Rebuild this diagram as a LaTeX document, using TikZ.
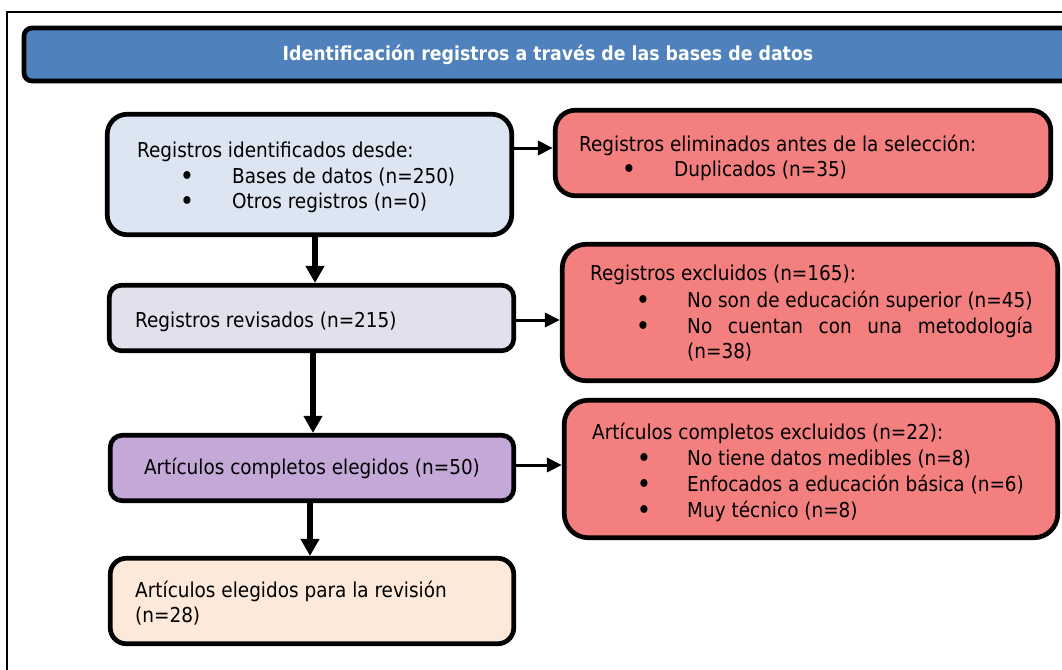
\documentclass[tikz,border=0pt]{standalone}
\usepackage{fontspec}
\setmainfont{DejaVu Sans Condensed}
\usetikzlibrary{arrows.meta}
\definecolor{titleblue}{HTML}{4F81BD}
\definecolor{boxblue}{HTML}{DCE6F2}
\definecolor{boxlilac}{HTML}{E4DFEC}
\definecolor{boxpurple}{HTML}{C4A9D8}
\definecolor{boxpeach}{HTML}{FDE9D9}
\definecolor{boxred}{HTML}{F47F7F}
\newcommand\bodyfont{\fontsize{20.5}{25.5}\selectfont}
\newcommand\bulfont{\fontsize{27}{27}\selectfont}
\newcommand\headfont{\fontsize{19.3}{22}\selectfont\bfseries}
\begin{document}
\begin{tikzpicture}[x=1pt,y=-1pt,
  box/.style={draw=black, line width=4.7pt, rounded corners=#1, inner sep=0pt},
  txt/.style={inner sep=0pt, anchor=base west, font=\bodyfont},
  bul/.style={inner sep=0pt, anchor=base, font=\bulfont, yshift=-2.3pt},
  varrow/.style={line width=6.5pt, -{Triangle[length=17pt,width=18pt]}},
  harrow/.style={line width=3pt, -{Triangle[length=15pt,width=14pt]}}]
\useasboundingbox (0,0) rectangle (1062,669);
\clip (0,0) rectangle (1062,669);
\fill[white] (0,0) rectangle (1062,669);
\draw[line width=1.5pt] (7,12) rectangle (1100,700);
% title
\node[box=8, fill=titleblue, minimum width=1048pt, minimum height=53pt,
      text=white, font=\headfont] (title) at (548,54.5)
      {Identificación registros a través de las bases de datos};
% left column boxes
\node[box=20, fill=boxblue, minimum width=404.5pt, minimum height=120.5pt] (b1) at (309.5,174.5) {};
\node[box=12, fill=boxlilac, minimum width=404.5pt, minimum height=65.5pt] (b3) at (311.5,318) {};
\node[box=12, fill=boxpurple, minimum width=403.5pt, minimum height=65.5pt, font=\bodyfont] (b5) at (312,468) {Artículos completos elegidos (n=50)};
\node[box=16, fill=boxpeach, minimum width=403.5pt, minimum height=85.5pt] (b6) at (312,601) {};
% right column boxes
\node[box=20, fill=boxred, minimum width=495.5pt, minimum height=85.5pt] (r2) at (803,153) {};
\node[box=24, fill=boxred, minimum width=495.5pt, minimum height=136.5pt] (r3) at (810,312.5) {};
\node[box=24, fill=boxred, minimum width=493.5pt, minimum height=137.5pt] (r4) at (811,469) {};
% texts box 1
\node[txt] (t1a) at (137,157) {Registros identificados desde:};
\node[bul] (t1b) at (187,183) {•};
\node[txt] (t1c) at (232,183) {Bases de datos (n=250)};
\node[bul] (t1d) at (187,208.5) {•};
\node[txt] (t1e) at (232,208.5) {Otros registros (n=0)};
% box 3
\node[txt] (t3) at (135,327) {Registros revisados (n=215)};
% box 6
\node[txt] (t6a) at (135,597) {Artículos elegidos para la revisión};
\node[txt] (t6b) at (135,622.5) {(n=28)};
% red 2
\node[txt] (u2a) at (579,151) {Registros eliminados antes de la selección:};
\node[bul] (u2b) at (629,176.5) {•};
\node[txt] (u2c) at (674,176.5) {Duplicados (n=35)};
% red 3
\node[txt] (u3a) at (590,280) {Registros excluidos (n=165):};
\node[bul] (u3b) at (643,307) {•};
\node[txt] (u3c) at (687,307) {No son de educación superior (n=45)};
\node[bul] (u3d) at (643,333) {•};
\node[txt, text width=346pt, align=justify] (u3e) at (687,333)
  {\hyphenpenalty=10000 \exhyphenpenalty=10000 \tolerance=10000 No cuentan con una metodología (n=38)};
% red 4
\node[txt] (u4a) at (592,439) {Artículos completos excluidos (n=22):};
\node[bul] (u4b) at (644,465) {•};
\node[txt] (u4c) at (687,465) {No tiene datos medibles (n=8)};
\node[bul] (u4d) at (644,491) {•};
\node[txt] (u4e) at (687,491) {Enfocados a educación básica (n=6)};
\node[bul] (u4f) at (644,517) {•};
\node[txt] (u4g) at (687,517) {Muy técnico (n=8)};
% arrows
\draw[varrow] (b1.south -| 315,0) -- (b3.north -| 315,0);
\draw[varrow] (b3.south -| 313,0) -- (b5.north -| 313,0);
\draw[varrow] (b5.south -| 310,0) -- (b6.north -| 310,0);
\draw[harrow] (b1.east |- 0,148) -- (r2.west |- 0,148);
\draw[harrow] (b3.east |- 0,320) -- (r3.west |- 0,320);
\draw[harrow] (b5.east |- 0,465) -- (r4.west |- 0,465);
\end{tikzpicture}
\end{document}
